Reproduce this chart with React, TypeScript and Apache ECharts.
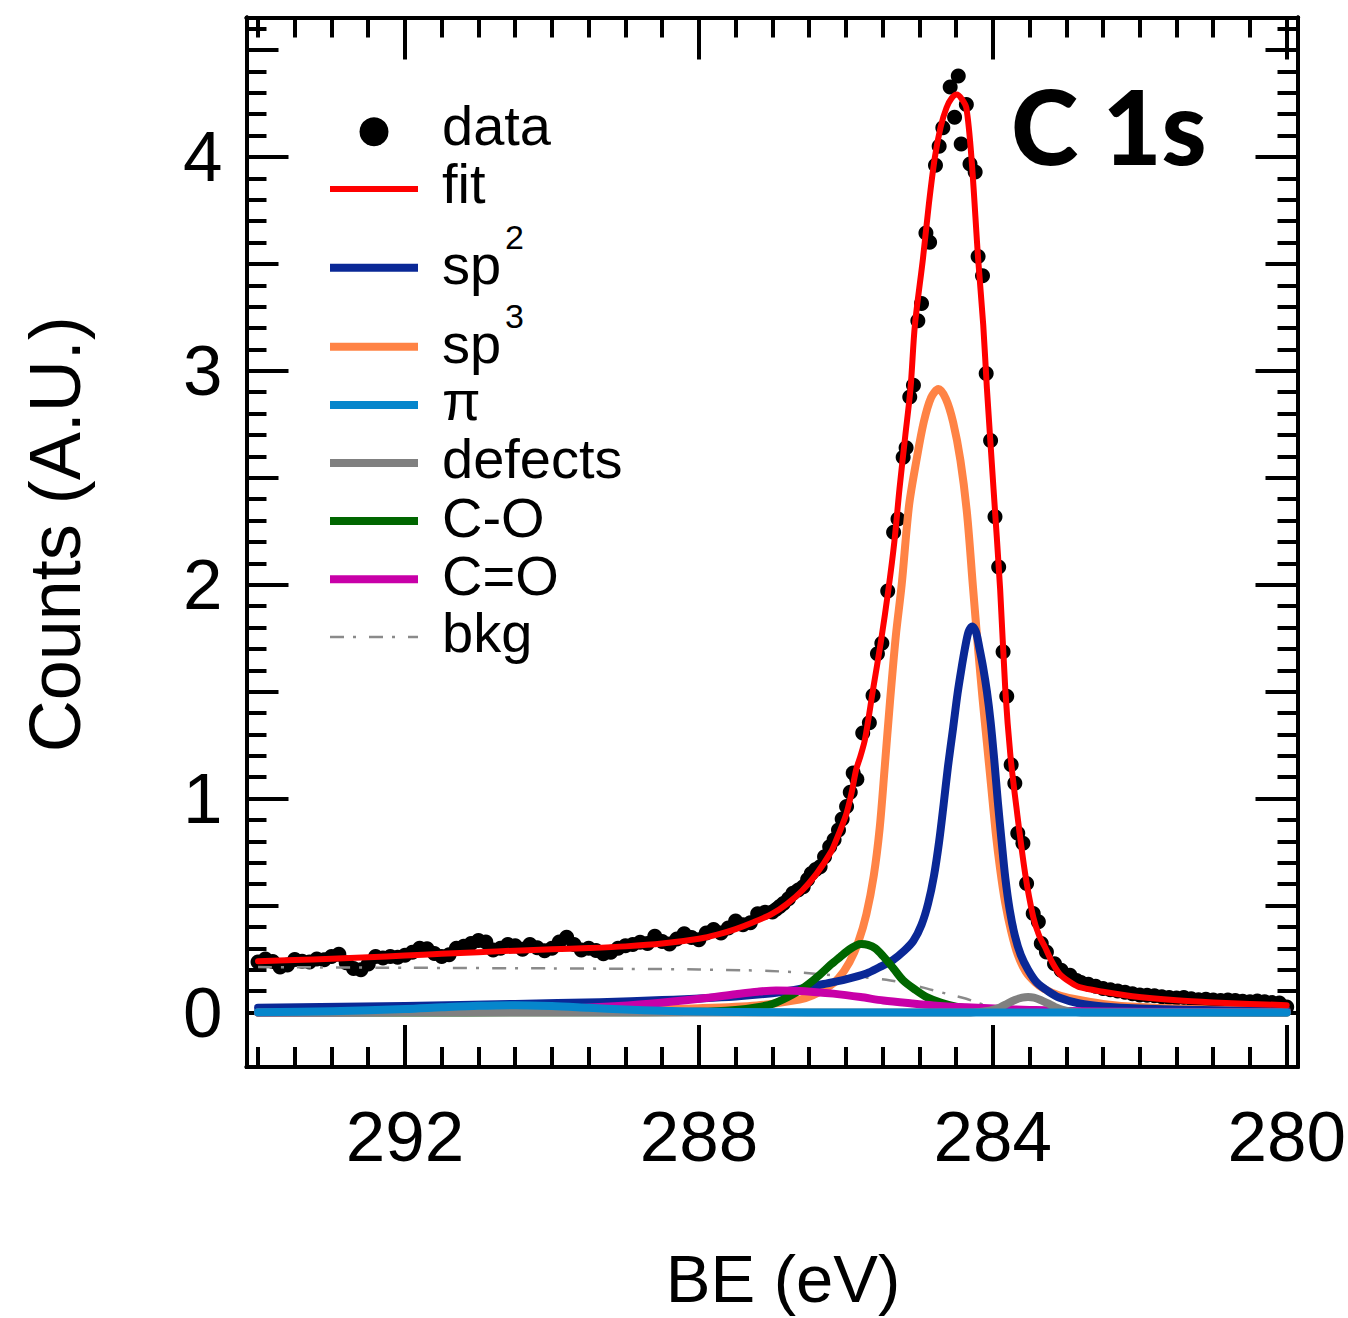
import React, { useEffect, useRef } from 'react';
import * as echarts from 'echarts';

// ---------- data (BE in eV, counts in A.U.) ----------
const beData = [
  294.0, 293.9, 293.8, 293.7, 293.6, 293.5, 293.4, 293.3, 293.2, 293.1,
  293.0, 292.9, 292.8, 292.7, 292.6, 292.5, 292.4, 292.3, 292.2, 292.1,
  292.0, 291.9, 291.8, 291.7, 291.6, 291.5, 291.4, 291.3, 291.2, 291.1,
  291.0, 290.9, 290.8, 290.7, 290.6, 290.5, 290.4, 290.3, 290.2, 290.1,
  290.0, 289.9, 289.8, 289.7, 289.6, 289.5, 289.4, 289.3, 289.2, 289.1,
  289.0, 288.9, 288.8, 288.7, 288.6, 288.5, 288.4, 288.3, 288.2, 288.1,
  288.0, 287.9, 287.8, 287.7, 287.6, 287.5, 287.4, 287.3, 287.2, 287.1,
  287.0, 286.95, 286.9, 286.85, 286.78, 286.72, 286.65, 286.58, 286.52, 286.47,
  286.41, 286.35, 286.29, 286.22, 286.16, 286.1, 286.05, 285.99, 285.94, 285.9,
  285.85, 285.77, 285.68, 285.63, 285.57, 285.51, 285.43, 285.35, 285.29, 285.22,
  285.18, 285.13, 285.08, 285.02, 284.97, 284.91, 284.86, 284.78, 284.73, 284.68,
  284.58, 284.52, 284.47, 284.43, 284.36, 284.31, 284.24, 284.2, 284.14, 284.09,
  284.03, 283.97, 283.92, 283.86, 283.81, 283.75, 283.7, 283.66, 283.59, 283.54,
  283.45, 283.38, 283.34, 283.27, 283.16, 283.07, 282.95, 282.86, 282.8, 282.7,
  282.6, 282.5, 282.4, 282.3, 282.2, 282.1, 282.0, 281.9, 281.8, 281.7,
  281.6, 281.5, 281.4, 281.3, 281.2, 281.1, 281.0, 280.9, 280.8, 280.7,
  280.6, 280.5, 280.4, 280.3, 280.2, 280.1, 280.0,
];
const countsData = [
  0.236, 0.25, 0.238, 0.212, 0.222, 0.248, 0.24, 0.236, 0.25, 0.246,
  0.262, 0.272, 0.232, 0.206, 0.2, 0.226, 0.262, 0.255, 0.262, 0.258,
  0.268, 0.282, 0.3, 0.298, 0.276, 0.262, 0.27, 0.3, 0.31, 0.322,
  0.336, 0.33, 0.292, 0.3, 0.318, 0.312, 0.296, 0.318, 0.302, 0.288,
  0.3, 0.33, 0.352, 0.318, 0.292, 0.3, 0.29, 0.275, 0.282, 0.3,
  0.312, 0.318, 0.328, 0.322, 0.356, 0.332, 0.32, 0.344, 0.368, 0.35,
  0.34, 0.372, 0.388, 0.372, 0.395, 0.428, 0.41, 0.42, 0.462, 0.468,
  0.47, 0.482, 0.495, 0.51, 0.532, 0.557, 0.572, 0.588, 0.622, 0.65,
  0.668, 0.681, 0.728, 0.775, 0.808, 0.853, 0.905, 0.963, 1.03, 1.12,
  1.09, 1.307, 1.354, 1.482, 1.677, 1.726, 1.971, 2.245, 2.307, 2.596,
  2.64, 2.878, 2.932, 3.234, 3.315, 3.644, 3.601, 3.961, 4.05, 4.136,
  4.327, 4.186, 4.378, 4.061, 4.245, 3.967, 3.93, 3.534, 3.445, 2.987,
  2.674, 2.318, 2.083, 1.687, 1.479, 1.158, 1.072, 0.838, 0.791, 0.603,
  0.463, 0.424, 0.322, 0.283, 0.228, 0.197, 0.174, 0.15, 0.14, 0.132,
  0.122, 0.112, 0.106, 0.1, 0.094, 0.088, 0.082, 0.08, 0.078, 0.074,
  0.07, 0.068, 0.07, 0.064, 0.06, 0.062, 0.058, 0.056, 0.058, 0.056,
  0.052, 0.05, 0.054, 0.05, 0.046, 0.044, 0.026,
];

const fitBE = [
  294.0, 293.5, 293.0, 292.5, 292.0, 291.5, 291.0, 290.5, 290.0, 289.5,
  289.0, 288.5, 288.0, 287.75, 287.5, 287.25, 287.0, 286.8, 286.6, 286.4,
  286.2, 286.13, 286.05, 285.99, 285.92, 285.86, 285.8, 285.74, 285.63, 285.52,
  285.42, 285.34, 285.27, 285.19, 285.12, 285.06, 284.95, 284.87, 284.79, 284.71,
  284.63, 284.56, 284.49, 284.42, 284.36, 284.29, 284.2, 284.13, 284.08, 283.99,
  283.9, 283.83, 283.76, 283.68, 283.56, 283.45, 283.37, 283.29, 283.2, 283.09,
  282.95, 282.82, 282.5, 282.1, 281.5, 281.0, 280.5, 280.0,
];
const fitCounts = [
  0.24, 0.245, 0.251, 0.258, 0.266, 0.274, 0.282, 0.289, 0.295, 0.301,
  0.309, 0.322, 0.345, 0.364, 0.39, 0.423, 0.462, 0.508, 0.568, 0.648,
  0.752, 0.807, 0.875, 0.932, 1.03, 1.135, 1.2, 1.276, 1.51, 1.74,
  1.979, 2.2, 2.448, 2.7, 2.917, 3.214, 3.526, 3.78, 3.995, 4.14,
  4.23, 4.275, 4.292, 4.27, 4.23, 3.995, 3.526, 3.214, 2.917, 2.448,
  1.979, 1.51, 1.2, 0.963, 0.65, 0.447, 0.36, 0.306, 0.24, 0.18,
  0.142, 0.118, 0.097, 0.076, 0.057, 0.047, 0.04, 0.034,
];

const sp2BE = [
  294.0, 292.0, 290.5, 289.35, 288.5, 287.5, 287.0, 286.7, 286.3, 286.0,
  285.72, 285.55, 285.36, 285.2, 285.08, 284.97, 284.88, 284.8, 284.73, 284.67,
  284.61, 284.54, 284.48, 284.43, 284.38, 284.33, 284.28, 284.23, 284.18, 284.13,
  284.08, 284.03, 283.98, 283.93, 283.88, 283.83, 283.77, 283.7, 283.62, 283.52,
  283.4, 283.25, 283.1, 282.82, 282.5, 282.0, 281.0, 280.0,
];
const sp2Counts = [
  0.022, 0.03, 0.04, 0.048, 0.058, 0.075, 0.09, 0.105, 0.133, 0.155,
  0.182, 0.21, 0.245, 0.29, 0.335, 0.41, 0.51, 0.64, 0.8, 0.97,
  1.15, 1.33, 1.49, 1.6, 1.7, 1.78, 1.804, 1.78, 1.7, 1.61,
  1.5, 1.36, 1.18, 0.98, 0.8, 0.63, 0.48, 0.36, 0.27, 0.2,
  0.14, 0.1, 0.07, 0.042, 0.028, 0.018, 0.01, 0.007,
];

const sp3BE = [
  294.0, 292.0, 290.0, 289.0, 288.0, 287.21, 286.63, 286.45, 286.26, 286.1,
  285.95, 285.83, 285.72, 285.62, 285.54, 285.47, 285.4, 285.32, 285.24, 285.14,
  285.04, 284.94, 284.84, 284.74, 284.64, 284.54, 284.44, 284.35, 284.27, 284.2,
  284.14, 284.08, 284.02, 283.96, 283.9, 283.83, 283.75, 283.66, 283.55, 283.42,
  283.3, 283.1, 282.91, 282.5, 282.0, 281.0, 280.0,
];
const sp3Counts = [
  0.002, 0.004, 0.008, 0.012, 0.02, 0.033, 0.06, 0.08, 0.115, 0.16,
  0.235, 0.33, 0.46, 0.64, 0.86, 1.15, 1.45, 1.76, 2.0, 2.37,
  2.58, 2.76, 2.875, 2.915, 2.87, 2.76, 2.58, 2.33, 1.99, 1.7,
  1.47, 1.26, 1.05, 0.84, 0.67, 0.51, 0.38, 0.27, 0.19, 0.14,
  0.11, 0.08, 0.064, 0.04, 0.025, 0.013, 0.008,
];

const piBE = [294.0, 293.0, 292.0, 291.5, 291.0, 290.5, 290.0, 289.5, 289.0, 288.5, 288.0, 287.0, 286.0, 280.0];
const piCounts = [0.001, 0.006, 0.016, 0.024, 0.031, 0.034, 0.03, 0.022, 0.014, 0.008, 0.004, 0.001, 0.0, 0.0];

const defectsBE = [294.0, 284.3, 284.1, 284.0, 283.9, 283.8, 283.7, 283.6, 283.52, 283.44, 283.35, 283.25, 283.15, 283.05, 282.95, 282.8, 280.0];
const defectsCounts = [0.0, 0.0, 0.006, 0.012, 0.024, 0.042, 0.058, 0.069, 0.072, 0.069, 0.058, 0.042, 0.025, 0.012, 0.005, 0.0, 0.0];

const coBE = [
  294.0, 289.0, 288.0, 287.5, 287.2, 286.99, 286.8, 286.63, 286.5, 286.35,
  286.2, 286.08, 285.95, 285.85, 285.79, 285.7, 285.6, 285.49, 285.35, 285.22,
  285.05, 284.9, 284.7, 284.5, 284.2, 283.8, 283.0, 280.0,
];
const coCounts = [
  0.0, 0.001, 0.003, 0.012, 0.025, 0.041, 0.07, 0.103, 0.135, 0.178,
  0.225, 0.259, 0.295, 0.315, 0.32, 0.316, 0.3, 0.262, 0.205, 0.15,
  0.105, 0.072, 0.045, 0.027, 0.013, 0.006, 0.002, 0.0,
];

const c2oBE = [
  294.0, 292.0, 291.0, 290.0, 289.35, 288.67, 287.99, 287.5, 287.2, 286.95,
  286.7, 286.4, 286.17, 285.8, 285.49, 285.1, 284.81, 284.36, 283.9, 283.5,
  283.0, 282.0, 280.0,
];
const c2oCounts = [
  0.0, 0.002, 0.006, 0.014, 0.025, 0.041, 0.064, 0.085, 0.097, 0.103,
  0.101, 0.095, 0.088, 0.072, 0.056, 0.042, 0.033, 0.024, 0.017, 0.012,
  0.007, 0.003, 0.001,
];

const bkgBE = [294.0, 292.0, 290.0, 289.0, 288.0, 287.35, 287.03, 286.6, 286.17, 285.8, 285.45, 285.1, 284.86, 284.6, 284.36, 284.2, 284.09, 283.9, 283.6, 283.0, 280.0];
const bkgCounts = [0.212, 0.209, 0.206, 0.204, 0.201, 0.197, 0.194, 0.186, 0.174, 0.165, 0.153, 0.13, 0.108, 0.085, 0.064, 0.045, 0.033, 0.018, 0.01, 0.008, 0.006];

// ---------- tick labels / tick positions ----------
const xMajorTicks = [292, 288, 284, 280];
const xMinorTicks = [294, 293.5, 293, 292.5, 292, 291.5, 291, 290.5, 290, 289.5, 289, 288.5, 288, 287.5, 287, 286.5, 286, 285.5, 285, 284.5, 284, 283.5, 283, 282.5, 282, 281.5, 281, 280.5, 280];
const yMajorTicks = [0, 1, 2, 3, 4];
const yHalfTicks = [0.5, 1.5, 2.5, 3.5, 4.5];
const yMinorTicks = [0, 0.1, 0.2, 0.3, 0.4, 0.5, 0.6, 0.7, 0.8, 0.9, 1, 1.1, 1.2, 1.3, 1.4, 1.5, 1.6, 1.7, 1.8, 1.9, 2, 2.1, 2.2, 2.3, 2.4, 2.5, 2.6, 2.7, 2.8, 2.9, 3, 3.1, 3.2, 3.3, 3.4, 3.5, 3.6, 3.7, 3.8, 3.9, 4, 4.1, 4.2, 4.3, 4.4, 4.5, 4.6];

const legendNames = ['data', 'fit', 'sp', 'sp', 'π', 'defects', 'C-O', 'C=O', 'bkg'];

const zip = (a: number[], b: number[]) => a.map((v, i) => [v, b[i]]);

const FONT = '"Liberation Sans", Arial, Helvetica, sans-serif';
const X_MIN = 279.853;
const X_MAX = 294.157;
const Y_MIN = -0.255;
const Y_MAX = 4.652;

const COLORS = {
  fit: '#ff0000',
  sp2: '#0a2896',
  sp3: '#ff8345',
  pi: '#0686cc',
  defects: '#808080',
  co: '#006600',
  c2o: '#c800a8',
  bkg: '#8a8a8a',
};
const BKG_DASH = [14, 9, 3, 13];
const COMP_W = 8;
const FIT_W = 6;

function xAxisDef(pos: 'top' | 'bottom', ticks: number[], len: number, labels: boolean) {
  return {
    type: 'value',
    position: pos,
    min: X_MIN,
    max: X_MAX,
    inverse: true,
    name: labels ? 'BE (eV)' : '',
    nameLocation: 'middle',
    nameGap: 178,
    nameTextStyle: { fontFamily: FONT, fontSize: 67, color: '#000', padding: [0, 0, 0, 22] },
    splitLine: { show: false },
    axisLine: { show: true, onZero: false, lineStyle: { color: '#000', width: 4 } },
    axisTick: { show: true, inside: true, length: len, lineStyle: { color: '#000', width: 4 }, customValues: ticks },
    axisLabel: labels
      ? { show: true, customValues: ticks, fontFamily: FONT, fontSize: 71, color: '#000', margin: 34 }
      : { show: false },
  };
}

function yAxisDef(pos: 'left' | 'right', ticks: number[], len: number, labels: boolean) {
  return {
    type: 'value',
    position: pos,
    min: Y_MIN,
    max: Y_MAX,
    name: labels ? 'Counts (A.U.)' : '',
    nameLocation: 'middle',
    nameGap: 156,
    nameTextStyle: { fontFamily: FONT, fontSize: 72, color: '#000', padding: [0, 0, 0, 16] },
    splitLine: { show: false },
    axisLine: { show: true, onZero: false, lineStyle: { color: '#000', width: 4 } },
    axisTick: { show: true, inside: true, length: len, lineStyle: { color: '#000', width: 4 }, customValues: ticks },
    axisLabel: labels
      ? { show: true, customValues: ticks, fontFamily: FONT, fontSize: 71, color: '#000', margin: 24 }
      : { show: false },
  };
}

function lineSeries(name: string, be: number[], v: number[], color: string, width: number, extra: any = {}) {
  return {
    name,
    type: 'line',
    xAxisIndex: 0,
    yAxisIndex: 0,
    data: zip(be, v),
    showSymbol: false,
    symbol: 'none',
    smooth: 0.3,
    lineStyle: { color, width, cap: 'round', join: 'round', ...extra },
    itemStyle: { color },
    silent: true,
    clip: true,
  };
}

export default function App() {
  const ref = useRef<HTMLDivElement>(null);
  useEffect(() => {
    if (!ref.current) return;
    const chart = echarts.init(ref.current, undefined, { renderer: 'svg' });

    const LX1 = 330, LX2 = 418, TX = 442, LFS = 56;
    const legendLine = (y: number, color: string, w: number, dash?: number[]) => ({
      type: 'line',
      shape: { x1: LX1, y1: y, x2: LX2, y2: y },
      style: { stroke: color, lineWidth: w, lineDash: dash },
      z: 100,
    });
    const legendText = (text: string, y: number, size = LFS, x = TX) => ({
      type: 'text',
      x,
      y,
      style: { text, fontFamily: FONT, fontSize: size, fill: '#000', verticalAlign: 'middle', align: 'left' },
      z: 100,
    });

    chart.setOption({
      animation: false,
      backgroundColor: '#fff',
      grid: { left: 246.5, top: 17.5, width: 1051, height: 1049.5, containLabel: false, outerBoundsMode: 'none' },
      xAxis: [
        xAxisDef('bottom', xMajorTicks, 42, true),
        xAxisDef('bottom', xMinorTicks, 20, false),
        xAxisDef('top', xMajorTicks, 42, false),
        xAxisDef('top', xMinorTicks, 20, false),
      ],
      yAxis: [
        yAxisDef('left', yMajorTicks, 42, true),
        yAxisDef('left', yHalfTicks, 32, false),
        yAxisDef('left', yMinorTicks, 20, false),
        yAxisDef('right', yMajorTicks, 42, false),
        yAxisDef('right', yHalfTicks, 32, false),
        yAxisDef('right', yMinorTicks, 20, false),
      ],
      series: [
        lineSeries('bkg', bkgBE, bkgCounts, COLORS.bkg, 2.5, { type: BKG_DASH, cap: 'butt' }),
        {
          name: 'data',
          type: 'scatter',
          xAxisIndex: 0,
          yAxisIndex: 0,
          data: zip(beData, countsData),
          symbol: 'circle',
          symbolSize: 15,
          itemStyle: { color: '#000', opacity: 1 },
          silent: true,
        },
        lineSeries('sp3', sp3BE, sp3Counts, COLORS.sp3, COMP_W),
        lineSeries('sp2', sp2BE, sp2Counts, COLORS.sp2, COMP_W),
        lineSeries('C-O', coBE, coCounts, COLORS.co, COMP_W),
        lineSeries('C=O', c2oBE, c2oCounts, COLORS.c2o, COMP_W),
        lineSeries('defects', defectsBE, defectsCounts, COLORS.defects, COMP_W),
        lineSeries('π', piBE, piCounts, COLORS.pi, COMP_W),
        lineSeries('fit', fitBE, fitCounts, COLORS.fit, FIT_W),
      ],
      graphic: [
        { type: 'circle', shape: { cx: 374, cy: 131.7, r: 14.5 }, style: { fill: '#000' }, z: 100 },
        legendText(legendNames[0], 145 - 19.4),
        legendLine(189, COLORS.fit, FIT_W),
        legendText(legendNames[1], 203 - 19.4),
        legendLine(267.7, COLORS.sp2, COMP_W),
        legendText(legendNames[2], 284 - 19.4),
        legendText('2', 249 - 11.8, 34, 505),
        legendLine(346.7, COLORS.sp3, COMP_W),
        legendText(legendNames[3], 363 - 19.4),
        legendText('3', 328 - 11.8, 34, 505),
        legendLine(405, COLORS.pi, COMP_W),
        legendText(legendNames[4], 420 - 19.4),
        legendLine(463, COLORS.defects, COMP_W),
        legendText(legendNames[5], 478 - 19.4),
        legendLine(521, COLORS.co, COMP_W),
        legendText(legendNames[6], 537 - 19.4),
        legendLine(579.3, COLORS.c2o, COMP_W),
        legendText(legendNames[7], 595 - 19.4),
        legendLine(637, COLORS.bkg, 2.5, BKG_DASH),
        legendText(legendNames[8], 652 - 19.4),
        {
          type: 'text',
          x: 1011,
          y: 125.5,
          style: { text: 'C 1s', fontFamily: 'Lato, "DejaVu Sans", sans-serif', fontWeight: 900, fontSize: 102, fill: '#000', verticalAlign: 'middle', align: 'left' },
          z: 100,
        },
      ],
    });
    return () => chart.dispose();
  }, []);
  return <div ref={ref} style={{ position: 'absolute', left: 0, top: 0, width: 1348, height: 1318 }} />;
}
